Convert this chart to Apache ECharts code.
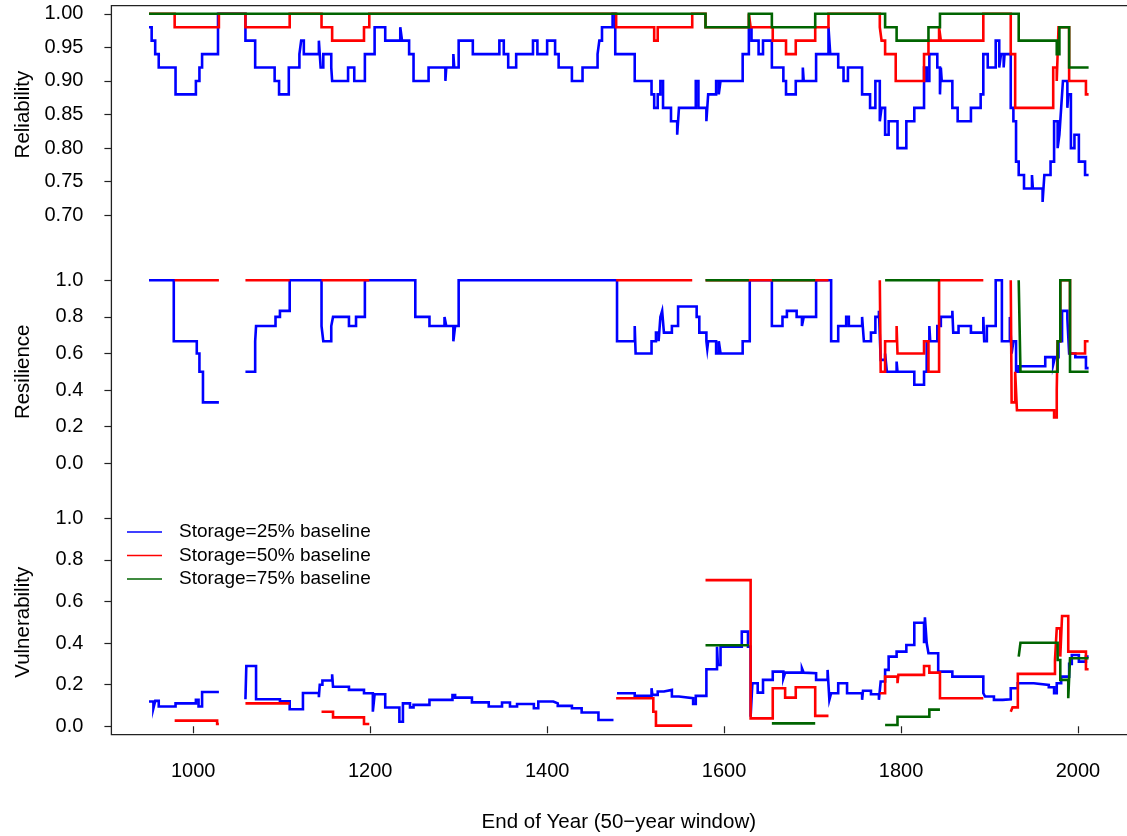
<!DOCTYPE html>
<html>
<head>
<meta charset="utf-8">
<script src="https://cdn.jsdelivr.net/npm/echarts@6/dist/echarts.min.js"></script>
<style>
  html, body { margin: 0; padding: 0; background: #ffffff; }
  #chart { width: 1127px; height: 836px; }
</style>
</head>
<body>
<div id="chart"></div>
<script>
// Tick labels
const yearTicks = [1000, 1200, 1400, 1600, 1800, 2000];
const reliabilityTicks = [0.70, 0.75, 0.80, 0.85, 0.90, 0.95, 1.00];
const fractionTicks = [0.0, 0.2, 0.4, 0.6, 0.8, 1.0];

const seriesNames = ['Storage=25% baseline', 'Storage=50% baseline', 'Storage=75% baseline'];
const seriesColors = ['#0000ff', '#ff0000', '#006400'];

// Step series: [end year of 50-year window, value]; null value = no failure in window
const reliability25 = [[950,0.98],[953,0.96],[957,0.94],[961,0.92],[980,0.88],[1003,0.90],[1007,0.92],[1010,0.94],[1028,1.00],[1059,0.96],[1070,0.92],[1092,0.90],[1097,0.88],[1108,0.92],[1120,0.94],[1122,0.96],[1125,0.94],[1142,0.96],[1144,0.92],[1147,0.94],[1156,0.92],[1157,0.90],[1175,0.92],[1182,0.90],[1194,0.94],[1205,0.98],[1217,0.96],[1234,0.98],[1236,0.96],[1244,0.94],[1249,0.90],[1266,0.92],[1285,0.90],[1286,0.92],[1294,0.94],[1295,0.92],[1300,0.96],[1316,0.94],[1346,0.96],[1351,0.94],[1356,0.92],[1365,0.94],[1384,0.96],[1389,0.94],[1400,0.96],[1409,0.94],[1413,0.92],[1428,0.90],[1440,0.92],[1457,0.94],[1459,0.96],[1462,0.98],[1474,1.00],[1477,0.94],[1499,0.90],[1518,0.88],[1521,0.86],[1525,0.88],[1528,0.90],[1531,0.86],[1540,0.84],[1547,0.82],[1549,0.86],[1568,0.90],[1571,0.86],[1580,0.84],[1582,0.88],[1591,0.90],[1594,0.88],[1596,0.90],[1621,0.94],[1628,0.98],[1631,0.96],[1639,0.94],[1644,0.96],[1654,0.92],[1667,0.90],[1670,0.88],[1681,0.90],[1689,0.92],[1690,0.90],[1704,0.94],[1718,0.98],[1720,0.94],[1729,0.92],[1735,0.90],[1740,0.92],[1756,0.88],[1765,0.86],[1771,0.90],[1776,0.84],[1778,0.86],[1782,0.82],[1786,0.84],[1796,0.80],[1806,0.84],[1815,0.86],[1826,0.92],[1829,0.90],[1832,0.94],[1841,0.92],[1844,0.88],[1845,0.92],[1846,0.90],[1858,0.86],[1864,0.84],[1879,0.86],[1890,0.88],[1893,0.94],[1898,0.92],[1907,0.96],[1911,0.92],[1913,0.94],[1916,0.92],[1917,0.94],[1924,0.86],[1927,0.84],[1930,0.78],[1933,0.76],[1939,0.74],[1948,0.76],[1949,0.74],[1960,0.72],[1962,0.76],[1969,0.78],[1973,0.84],[1977,0.80],[1979,0.82],[1981,0.86],[1983,0.90],[1988,0.86],[1989,0.88],[1992,0.80],[1996,0.82],[2001,0.78],[2008,0.76],[2012,0.76]];
const reliability50 = [[950,1.00],[979,0.98],[1029,1.00],[1059,0.98],[1109,1.00],[1145,0.98],[1157,0.96],[1193,0.98],[1199,1.00],[1478,0.98],[1521,0.96],[1525,0.98],[1564,1.00],[1579,0.98],[1628,1.00],[1630,0.98],[1655,0.96],[1670,0.94],[1681,0.96],[1703,0.98],[1718,1.00],[1776,0.98],[1778,0.96],[1782,0.94],[1794,0.90],[1826,0.94],[1831,0.96],[1843,0.98],[1845,0.96],[1893,1.00],[1924,0.94],[1929,0.86],[1972,0.92],[1976,0.90],[1978,0.98],[1990,0.90],[2009,0.88],[2012,0.88]];
const reliability75 = [[950,1.00],[1579,0.98],[1628,1.00],[1654,0.98],[1703,1.00],[1782,0.98],[1795,0.96],[1831,0.98],[1844,1.00],[1933,0.96],[1976,0.94],[1979,0.98],[1990,0.92],[2012,0.92]];

const resilience25 = [[950,1.0],[978,0.667],[1004,0.6],[1007,0.5],[1011,0.333],[1029,0.333],[1029,null],[1059,0.5],[1070,0.667],[1071,0.75],[1093,0.8],[1098,0.833],[1109,1.0],[1145,0.75],[1147,0.667],[1156,0.75],[1158,0.8],[1176,0.75],[1184,0.8],[1194,1.0],[1251,0.8],[1267,0.75],[1284,0.8],[1286,0.75],[1294,0.667],[1296,0.75],[1300,1.0],[1479,0.667],[1499,0.75],[1500,0.6],[1518,0.667],[1523,0.714],[1526,0.667],[1528,0.8],[1530,0.833],[1532,0.714],[1541,0.75],[1548,0.857],[1569,0.8],[1572,0.714],[1580,0.667],[1581,0.625],[1582,0.667],[1591,0.6],[1594,0.667],[1596,0.6],[1621,0.667],[1629,1.0],[1654,0.75],[1666,0.8],[1671,0.833],[1682,0.8],[1688,0.75],[1690,0.8],[1704,1.0],[1721,0.667],[1729,0.75],[1738,0.8],[1741,0.75],[1756,0.8],[1758,0.667],[1766,0.714],[1771,0.8],[1775,0.833],[1777,0.565],[1782,0.6],[1784,0.5],[1795,0.556],[1796,0.5],[1815,0.429],[1826,0.5],[1829,0.667],[1832,0.75],[1833,0.667],[1841,0.75],[1845,0.8],[1858,0.833],[1859,0.714],[1865,0.75],[1879,0.714],[1893,0.8],[1894,0.667],[1897,0.75],[1907,1.0],[1914,0.667],[1923,0.8],[1925,0.6],[1927,0.667],[1930,0.5],[1933,0.53],[1963,0.58],[1972,0.54],[1974,0.58],[1978,0.667],[1982,0.833],[1988,0.79],[1990,0.6],[1997,0.58],[2009,0.52],[2012,0.52]];
const resilience50 = [[979,1.0],[1029,1.0],[1029,null],[1059,1.0],[1109,1.0],[1109,null],[1145,1.0],[1199,1.0],[1199,null],[1478,1.0],[1564,1.0],[1564,null],[1579,1.0],[1718,1.0],[1718,null],[1776,1.0],[1777,0.5],[1782,0.667],[1795,0.75],[1796,0.6],[1826,0.667],[1831,0.5],[1843,1.0],[1893,1.0],[1893,null],[1924,1.0],[1925,0.333],[1929,0.5],[1931,0.29],[1973,0.25],[1976,0.4],[1977,0.667],[1980,1.0],[1991,0.6],[2008,0.667],[2012,0.667]];
const resilience75 = [[1579,1.0],[1628,1.0],[1628,null],[1654,1.0],[1703,1.0],[1703,null],[1782,1.0],[1844,1.0],[1844,null],[1933,1.0],[1935,0.5],[1977,0.667],[1980,1.0],[1991,0.5],[2012,0.5]];

const vulnerability25 = [[950,0.119],[955,0.087],[957,0.122],[961,0.095],[980,0.11],[1003,0.127],[1006,0.095],[1010,0.165],[1029,0.165],[1029,null],[1059,0.13],[1060,0.29],[1071,0.13],[1098,0.12],[1109,0.082],[1124,0.16],[1142,0.14],[1143,0.2],[1146,0.22],[1157,0.25],[1158,0.19],[1176,0.175],[1193,0.159],[1203,0.07],[1205,0.154],[1217,0.09],[1233,0.022],[1237,0.11],[1245,0.091],[1249,0.103],[1267,0.127],[1293,0.15],[1296,0.138],[1315,0.115],[1334,0.095],[1349,0.114],[1358,0.095],[1366,0.107],[1385,0.087],[1390,0.119],[1407,0.11],[1412,0.098],[1428,0.087],[1439,0.066],[1458,0.03],[1475,0.03],[1475,null],[1479,0.159],[1499,0.147],[1518,0.183],[1519,0.151],[1525,0.167],[1532,0.175],[1541,0.143],[1549,0.135],[1565,0.107],[1568,0.146],[1580,0.274],[1592,0.383],[1593,0.295],[1596,0.383],[1620,0.455],[1627,0.383],[1630,0.046],[1632,0.207],[1638,0.162],[1644,0.223],[1655,0.263],[1667,0.231],[1669,0.258],[1688,0.279],[1690,0.258],[1692,0.255],[1704,0.223],[1717,0.271],[1719,0.127],[1721,0.159],[1729,0.207],[1739,0.159],[1756,0.127],[1757,0.171],[1766,0.154],[1775,0.127],[1777,0.215],[1782,0.271],[1786,0.335],[1795,0.359],[1806,0.391],[1815,0.498],[1826,0.399],[1827,0.524],[1829,0.4],[1831,0.351],[1842,0.263],[1858,0.239],[1893,0.159],[1895,0.143],[1905,0.127],[1915,0.13],[1924,0.183],[1932,0.207],[1950,0.199],[1967,0.188],[1973,0.159],[1976,0.207],[1981,0.239],[1990,0.3],[1993,0.343],[2001,0.311],[2009,0.335],[2012,0.335]];
const vulnerability50 = [[979,0.027],[1027,0.011],[1029,0.011],[1029,null],[1059,0.11],[1109,0.11],[1109,null],[1145,0.07],[1158,0.043],[1193,0.011],[1199,0.011],[1199,null],[1478,0.135],[1520,0.07],[1523,0.003],[1564,0.003],[1564,null],[1579,0.703],[1630,0.038],[1655,0.183],[1669,0.138],[1681,0.188],[1703,0.05],[1718,0.05],[1718,null],[1776,0.159],[1782,0.239],[1796,0.207],[1797,0.247],[1826,0.29],[1832,0.258],[1844,0.135],[1893,0.135],[1893,null],[1924,0.07],[1926,0.091],[1932,0.252],[1974,0.319],[1976,0.471],[1980,0.335],[1982,0.53],[1989,0.359],[2009,0.274],[2012,0.274]];
const vulnerability75 = [[1579,0.39],[1628,0.39],[1628,null],[1654,0.014],[1703,0.014],[1703,null],[1782,0.006],[1796,0.046],[1832,0.08],[1844,0.08],[1844,null],[1933,0.335],[1935,0.402],[1977,0.319],[1980,0.223],[1989,0.135],[1991,0.327],[2012,0.327]];

const FONT = "'Liberation Sans', Arial, Helvetica, sans-serif";
const INK = '#000000';
const FRAME = '#222222';

// Shared horizontal extent of the three stacked panels
const plotLeft = 111.4;
const plotWidth = 1014.8;
const yearMin = 907.5;
const yearMax = 2054.5;

const panels = [
  { title: 'Reliability', top: 5.7, height: 217.7, min: 0.688, max: 1.012, ticks: reliabilityTicks, digits: 2,
    data: [reliability25, reliability50, reliability75] },
  { title: 'Resilience', top: 273, height: 197.6, min: -0.04, max: 1.04, ticks: fractionTicks, digits: 1,
    data: [resilience25, resilience50, resilience75] },
  { title: 'Vulnerability', top: 510, height: 224.6, min: -0.04, max: 1.04, ticks: fractionTicks, digits: 1,
    data: [vulnerability25, vulnerability50, vulnerability75] }
];

const grids = panels.map(p => ({
  left: plotLeft, width: plotWidth, top: p.top, height: p.height,
  containLabel: false, outerBoundsMode: 'none', show: false
}));

const xAxes = panels.map((p, i) => {
  const last = i === panels.length - 1;
  return {
    type: 'value', gridIndex: i, min: yearMin, max: yearMax,
    show: last,
    axisLine: { show: false },
    splitLine: { show: false },
    axisTick: { show: last, inside: false, length: 7, customValues: yearTicks,
      lineStyle: { color: FRAME, width: 1.2 } },
    axisLabel: { show: last, customValues: yearTicks, margin: 27,
      color: INK, fontSize: 20, fontFamily: FONT, formatter: v => String(Math.round(v)) },
    name: last ? 'End of Year (50\u2212year window)' : '',
    nameLocation: 'middle', nameGap: 77,
    nameTextStyle: { color: INK, fontSize: 20.5, fontFamily: FONT }
  };
});

const yAxes = panels.map((p, i) => ({
  type: 'value', gridIndex: i, min: p.min, max: p.max,
  axisLine: { show: false },
  splitLine: { show: false },
  axisTick: { show: true, inside: false, length: 7, customValues: p.ticks,
    lineStyle: { color: FRAME, width: 1.2 } },
  axisLabel: { customValues: p.ticks, margin: 28, color: INK, fontSize: 20, fontFamily: FONT,
    formatter: v => v.toFixed(p.digits) },
  name: p.title, nameLocation: 'middle', nameRotate: 90, nameGap: 78,
  nameTextStyle: { color: INK, fontSize: 20.5, fontFamily: FONT }
}));

const series = [];
panels.forEach((p, i) => {
  p.data.forEach((d, k) => {
    series.push({
      type: 'line', name: seriesNames[k], xAxisIndex: i, yAxisIndex: i,
      data: d, step: 'end', symbol: 'none', showSymbol: false, connectNulls: false,
      lineStyle: { color: seriesColors[k], width: 2.6, cap: 'butt', join: 'miter' },
      itemStyle: { color: seriesColors[k] },
      z: 2 + k, silent: true, animation: false
    });
  });
});

const chart = echarts.init(document.getElementById('chart'), null, { renderer: 'canvas' });
chart.setOption({
  backgroundColor: '#ffffff',
  animation: false,
  grid: grids,
  xAxis: xAxes,
  yAxis: yAxes,
  series: series,
  legend: {
    data: seriesNames, orient: 'vertical', left: 127, top: 521, padding: 0,
    icon: 'rect', itemWidth: 35, itemHeight: 1.4, itemGap: 1.5,
    selectedMode: false,
    textStyle: { color: INK, fontSize: 19, lineHeight: 22, fontFamily: FONT, padding: [0, 0, 0, 12] }
  },
  graphic: [{
    // frame around the three stacked panels (open on the right edge of the page)
    type: 'rect', silent: true, z: 10,
    shape: { x: plotLeft, y: grids[0].top, width: plotWidth + 6, height: grids[2].top + grids[2].height - grids[0].top },
    style: { fill: 'none', stroke: FRAME, lineWidth: 1.3 }
  }]
});
</script>
</body>
</html>
